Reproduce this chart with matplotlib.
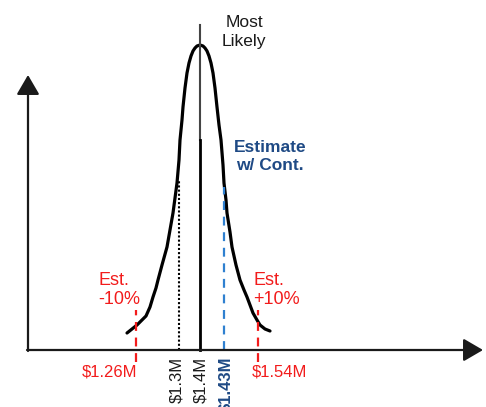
import matplotlib
matplotlib.use("Agg")
import matplotlib.pyplot as plt

plt.rcParams['font.family'] = ['Liberation Sans', 'DejaVu Sans']

# bell curve (drawing units: x across, y = height above axis)
curve_x = [127, 132, 137, 142, 146, 150, 153, 156, 158, 162, 167, 170, 173, 175, 177,
           179, 180, 182, 183, 185, 187, 189, 191, 193, 195, 197, 200,
           203, 205, 207, 209, 211, 213, 215, 217, 219, 221, 223, 224, 226, 227,
           230, 232, 236, 240, 244, 247, 250, 253, 257, 260, 265, 270]
curve_y = [17, 21, 25, 30, 34, 43, 53, 62, 70, 85, 103, 120, 137, 152, 167,
           190, 210, 230, 243, 262, 277, 287, 294, 299, 302, 304, 305,
           304, 302, 299, 294, 287, 277, 262, 243, 225, 210, 185, 167, 150, 137,
           118, 103, 85, 70, 60, 53, 45, 37, 30, 25, 21, 19]

# markers on the cost axis
marker_labels = ['$1.26M', '$1.3M', '$1.4M', '$1.43M', '$1.54M']
marker_x = [136, 179, 200, 224, 258]
marker_top = [40, 170, 325, 163, 40]

RED = '#f21b1b'
BLUE = '#2f80d0'
NAVY = '#1f4a85'
INK = '#1a1a1a'

fig = plt.figure(figsize=(4.86, 4.07), dpi=100)
ax = fig.add_axes([0, 0, 1, 1])
ax.set_xlim(0, 486)
ax.set_ylim(-57, 350)
ax.axis('off')

# axes with arrow heads
arrow = dict(arrowstyle='-|>,head_length=0.6,head_width=0.35', mutation_scale=20,
             lw=1.6, color=INK, shrinkA=0, shrinkB=0)
ax.annotate('', xy=(483, 0), xytext=(27, 0), arrowprops=arrow)
ax.annotate('', xy=(28, 275), xytext=(28, -1), arrowprops=arrow)

# distribution
ax.plot(curve_x, curve_y, color='black', lw=2.3, solid_capstyle='round',
        solid_joinstyle='round')

# most likely (center) line
ax.plot([marker_x[2], marker_x[2]], [210, marker_top[2]], color='#444444', lw=1.5)
ax.plot([marker_x[2], marker_x[2]], [0, 210], color='black', lw=2)

# $1.3M dotted
ax.plot([marker_x[1], marker_x[1]], [0, marker_top[1]], color='black', lw=1.5,
        linestyle=(0, (1, 1)))
# estimate w/ contingency
ax.plot([marker_x[3], marker_x[3]], [0, marker_top[3]], color=BLUE, lw=1.6,
        linestyle=(0, (4, 3)))
# +/- 10%
for i in (0, 4):
    ax.plot([marker_x[i], marker_x[i]], [-12, marker_top[i]], color=RED, lw=1.6,
            linestyle=(0, (4, 3)))

fs = 12
ax.text(110, -22, marker_labels[0].replace('$', r'\$'), color=RED, fontsize=12,
        ha='center', va='center')
ax.text(279, -22, marker_labels[4].replace('$', r'\$'), color=RED, fontsize=12,
        ha='center', va='center')
ax.text(177, -7, marker_labels[1].replace('$', r'\$'), color=INK, fontsize=fs,
        rotation=90, ha='center', va='top')
ax.text(201, -7, marker_labels[2].replace('$', r'\$'), color=INK, fontsize=fs,
        rotation=90, ha='center', va='top')
ax.text(226, -7, marker_labels[3].replace('$', r'\$'), color=NAVY, fontsize=fs,
        rotation=90, ha='center', va='top', fontweight='bold')

ax.text(98, 60, 'Est.\n-10%', color=RED, fontsize=13, ha='left', va='center',
        linespacing=1.15)
ax.text(253, 60, 'Est.\n+10%', color=RED, fontsize=13, ha='left', va='center',
        linespacing=1.15)
ax.text(244, 318, 'Most\nLikely', color=INK, fontsize=12.5, ha='center', va='center',
        linespacing=1.3)
ax.text(270, 194, 'Estimate\nw/ Cont.', color=NAVY, fontsize=12.5, ha='center',
        va='center', fontweight='bold', linespacing=1.25)

fig.savefig('out.png', dpi=100)
